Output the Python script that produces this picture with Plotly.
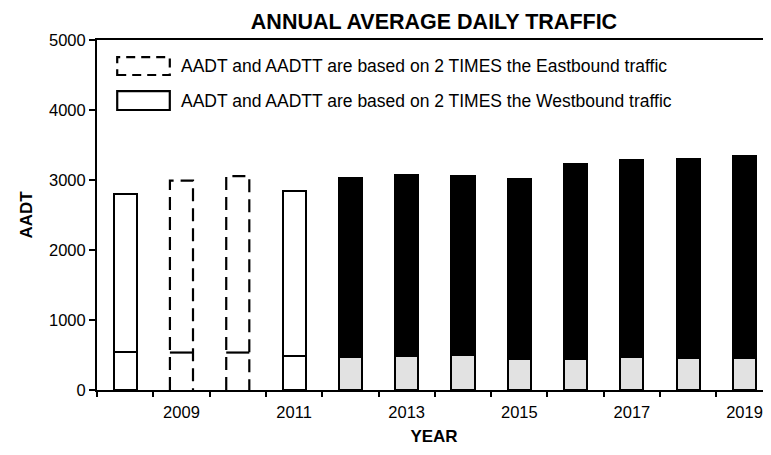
import plotly.graph_objects as go

years = [2008, 2009, 2010, 2011, 2012, 2013, 2014, 2015, 2016, 2017, 2018, 2019]
aadt = [2800, 2990, 3055, 2850, 3035, 3070, 3055, 3020, 3230, 3285, 3300, 3345]
aadtt = [545, 535, 535, 485, 465, 485, 500, 445, 445, 465, 455, 455]
basis = ["W", "E", "E", "W", "B", "B", "B", "B", "B", "B", "B", "B"]
tick_years = [2009, 2011, 2013, 2015, 2017, 2019]
legend_texts = ["AADT and AADTT are based on 2 TIMES the Eastbound traffic",
                "AADT and AADTT are based on 2 TIMES the Westbound traffic"]

BW = 0.41
FONT = "Liberation Sans, Arial, sans-serif"

upper = [t - b for t, b in zip(aadt, aadtt)]
low_col = ["white" if s != "B" else "#e2e2e2" for s in basis]
up_col = ["white" if s != "B" else "black" for s in basis]
lw = [0 if s == "E" else 2 for s in basis]

fig = go.Figure()
fig.add_trace(go.Bar(x=years, y=aadtt, width=BW, marker=dict(color=low_col, line=dict(color="black", width=lw)),
                     showlegend=False, hoverinfo="skip"))
fig.add_trace(go.Bar(x=years, y=upper, width=BW, marker=dict(color=up_col, line=dict(color="black", width=lw)),
                     showlegend=False, hoverinfo="skip"))

# dashed outlines for eastbound-based years
for yr, tot, trk, s in zip(years, aadt, aadtt, basis):
    if s != "E":
        continue
    xl, xr = yr - BW / 2, yr + BW / 2
    fig.add_trace(go.Scatter(x=[xl, xl, xr, xr], y=[0, tot, tot, 0], mode="lines",
                             line=dict(color="black", width=2.2, dash="13px,7px"),
                             showlegend=False, hoverinfo="skip"))
    fig.add_trace(go.Scatter(x=[xl, xr], y=[trk, trk], mode="lines",
                             line=dict(color="black", width=2.2),
                             showlegend=False, hoverinfo="skip"))

# custom legend
fig.add_shape(type="rect", xref="paper", yref="paper", x0=0.030, x1=0.108, y0=0.90, y1=0.951,
              line=dict(color="black", width=2.2, dash="9px,6px"), fillcolor="white")
fig.add_shape(type="rect", xref="paper", yref="paper", x0=0.030, x1=0.108, y0=0.80, y1=0.854,
              line=dict(color="black", width=2.2), fillcolor="white")
for txt, yy in zip(legend_texts, [0.926, 0.827]):
    fig.add_annotation(text=txt, xref="paper", yref="paper", x=0.121, y=yy, xanchor="left", yanchor="middle",
                       showarrow=False, font=dict(family=FONT, size=17.5, color="black"))

minor_vals = [y - 0.5 for y in years] + [years[-1] + 0.5]

fig.update_layout(
    width=763, height=447,
    margin=dict(l=89, r=0, t=32, b=65, autoexpand=False),
    plot_bgcolor="white", paper_bgcolor="white",
    barmode="stack", bargap=0,
    title=dict(text="<b>ANNUAL AVERAGE DAILY TRAFFIC</b>", x=0.5, xref="paper", xanchor="center",
               y=1 - 13 / 447, yref="container", yanchor="middle",
               font=dict(family=FONT, size=21.5, color="black")),
    font=dict(family=FONT, size=16.5, color="black"),
)
fig.update_xaxes(range=[2007.5, 2019.47], tickmode="array", tickvals=tick_years, ticktext=[str(t) for t in tick_years],
                 ticks="outside", ticklen=6, tickcolor="rgba(0,0,0,0)", automargin=False,
                 minor=dict(tickmode="array", tickvals=minor_vals, ticks="outside", ticklen=5, tickwidth=1.5, tickcolor="black", showgrid=False),
                 showline=True, linecolor="black", linewidth=2, mirror=True, showgrid=False, zeroline=False,
                 title=dict(text="<b>YEAR</b>", font=dict(family=FONT, size=17), standoff=10),
                 tickfont=dict(family=FONT, size=16.5))
fig.update_yaxes(range=[0, 5000], tickmode="array", tickvals=[0, 1000, 2000, 3000, 4000, 5000],
                 ticks="outside", ticklen=6, tickwidth=1.5, tickcolor="black", automargin=False,
                 showline=True, linecolor="black", linewidth=2, showgrid=False, zeroline=False,
                 title=dict(text="<b>AADT</b>", font=dict(family=FONT, size=17), standoff=12),
                 tickfont=dict(family=FONT, size=16.5))

fig.write_html("out.html")
